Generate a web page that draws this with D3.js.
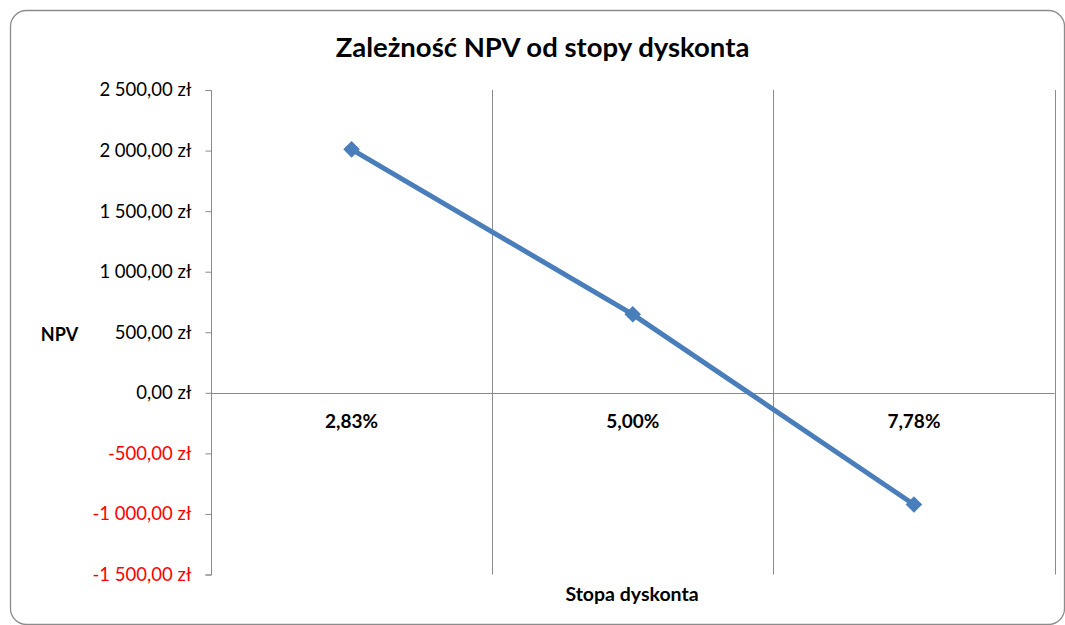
<!DOCTYPE html>
<html><head><meta charset="utf-8">
<script src="https://cdn.jsdelivr.net/npm/d3@7"></script>
<style>
html,body{margin:0;padding:0;background:#fff;}
svg{display:block;font-family:Lato, "Open Sans", sans-serif;}
</style></head>
<body>
<svg id="chart" width="1065" height="625"></svg>
<script>
const categories = ["2,83%", "5,00%", "7,78%"];
const npvValues = [2010, 648, -922];
const yTicks = [-1500, -1000, -500, 0, 500, 1000, 1500, 2000, 2500];
const titleText = "Zależność NPV od stopy dyskonta";
const xTitle = "Stopa dyskonta";
const yTitle = "NPV";

(function(){
const svg = d3.select("#chart");
const pLeft = 211, pRight = 1054.5, pTop = 90, pBottom = 574.5;

// frame
svg.append("rect").attr("x",10.5).attr("y",10.5).attr("width",1054).attr("height",614)
  .attr("rx",16).attr("ry",16).attr("fill","#fff").attr("stroke","#8c8c8c").attr("stroke-width",1.3);

const x = d3.scaleBand().domain(categories).range([pLeft, pRight]).padding(0);
const y = d3.scaleLinear().domain([-1500, 2500]).range([pBottom, pTop]);

// vertical gridlines at band boundaries
const bounds = categories.map(c => x(c) + x.bandwidth());
svg.append("g").selectAll("line").data(bounds).join("line")
  .attr("x1", d => Math.round(d)+0.5).attr("x2", d => Math.round(d)+0.5)
  .attr("y1", pTop).attr("y2", pBottom)
  .attr("stroke", "#8a8a8a").attr("stroke-width", 1);

// y axis
const yAxis = d3.axisLeft(y).tickValues(yTicks).tickSize(6).tickPadding(14)
  .tickFormat(d => {
    const s = d3.format(",.2f")(Math.abs(d)).replace(/,/g," ").replace(".",",");
    return (d < 0 ? "-" : "") + s + " zł";
  });
const gy = svg.append("g").attr("transform", `translate(${pLeft+0.5},0)`).call(yAxis);
gy.select(".domain").attr("stroke","#8a8a8a").attr("d", `M-6,${y(2500)+0.5}H0V${y(-1500)+0.5}H-6`);
gy.selectAll(".tick line").attr("stroke","#8a8a8a");
gy.selectAll(".tick text").attr("font-size", 18.5).attr("font-family","Lato")
  .attr("fill", d => d < 0 ? "#ff0000" : "#000");

// x axis at zero
svg.append("line").attr("x1", pLeft).attr("x2", pRight).attr("y1", Math.round(y(0))+0.5).attr("y2", Math.round(y(0))+0.5)
  .attr("stroke","#8a8a8a").attr("stroke-width",1);
svg.append("g").selectAll("text").data(categories).join("text")
  .attr("x", d => x(d) + x.bandwidth()/2).attr("y", y(0) + 35)
  .attr("text-anchor","middle").attr("font-size", 19).attr("font-weight","bold")
  .text(d => d);

// line
const pts = categories.map((c,i) => [x(c) + x.bandwidth()/2, y(npvValues[i])]);
svg.append("path").datum(pts).attr("d", d3.line())
  .attr("fill","none").attr("stroke","#4a7ebb").attr("stroke-width",5).attr("stroke-linejoin","round");
svg.append("g").selectAll("path").data(pts).join("path")
  .attr("d", d3.symbol(d3.symbolSquare, 115)())
  .attr("transform", d => `translate(${d[0]},${d[1]}) rotate(45)`)
  .attr("fill","#4a7ebb").attr("stroke","#4a7ebb").attr("stroke-width",1);

// titles
svg.append("text").attr("x", 542.5).attr("y", 57).attr("text-anchor","middle")
  .attr("font-size", 27.5).attr("font-weight","bold").text(titleText);
svg.append("text").attr("x", 632).attr("y", 601).attr("text-anchor","middle")
  .attr("font-size", 19.5).attr("font-weight","bold").text(xTitle);
svg.append("text").attr("x", 59.5).attr("y", 341).attr("text-anchor","middle")
  .attr("font-size", 18).attr("font-weight","bold").text(yTitle);
})();
</script>
</body></html>
